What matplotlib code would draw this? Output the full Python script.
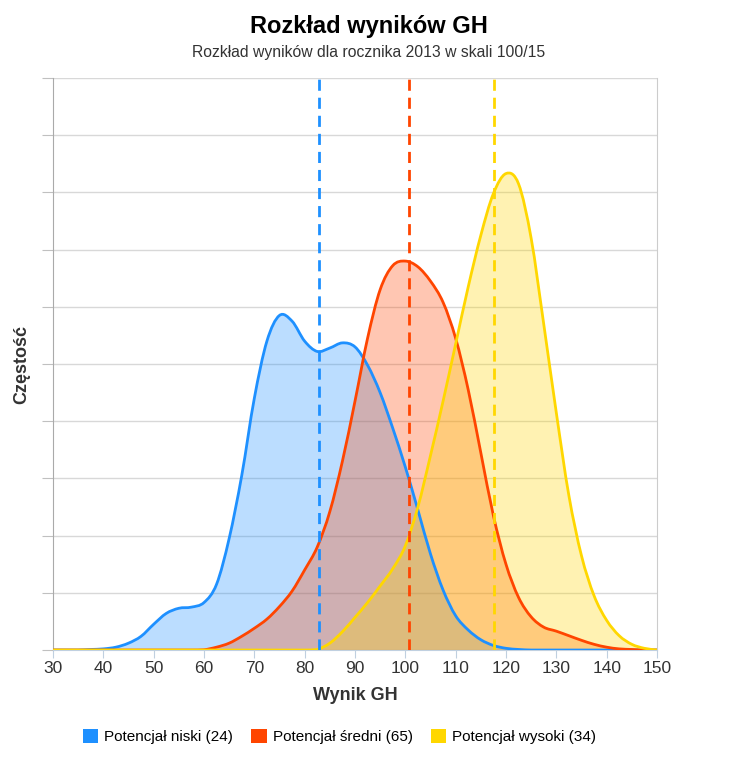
import numpy as np
import matplotlib
matplotlib.use("Agg")
import matplotlib.pyplot as plt
from matplotlib.path import Path
from matplotlib.patches import PathPatch, Patch

# Wyniki GH (oś X) i gęstości
wynik = [30, 32.5, 35, 37.5, 40, 42.5, 45, 47.5, 50, 52.5, 55, 57.5, 60, 62.5, 65,
         67.5, 70, 72.5, 75, 77.5, 80, 82.5, 85, 87.5, 90, 92.5, 95, 97.5, 100,
         102.5, 105, 107.5, 110, 112.5, 115, 117.5, 120, 122.5, 125, 127.5, 130,
         132.5, 135, 137.5, 140, 142.5, 145, 147.5, 150]

niski = [0, 0, 0, 0.01, 0.02, 0.05, 0.12, 0.24, 0.45, 0.64, 0.73, 0.75, 0.83, 1.15, 1.95,
         3.05, 4.4, 5.4, 5.85, 5.75, 5.4, 5.22, 5.28, 5.37, 5.3, 4.98, 4.5, 3.88, 3.2,
         2.45, 1.68, 1.05, 0.6, 0.35, 0.18, 0.08, 0.03, 0.01, 0, 0, 0,
         0, 0, 0, 0, 0, 0, 0, 0]

sredni = [0, 0, 0, 0, 0, 0, 0, 0, 0, 0, 0, 0, 0.005, 0.05, 0.12,
          0.24, 0.38, 0.54, 0.76, 1.03, 1.4, 1.8, 2.42, 3.3, 4.35, 5.45, 6.3, 6.72, 6.8,
          6.7, 6.45, 6.08, 5.45, 4.55, 3.45, 2.35, 1.5, 0.92, 0.58, 0.4, 0.33,
          0.25, 0.17, 0.1, 0.05, 0.02, 0.01, 0, 0]

wysoki = [0, 0, 0, 0, 0, 0, 0, 0, 0, 0, 0, 0, 0, 0, 0,
          0, 0, 0, 0, 0, 0, 0.01, 0.12, 0.32, 0.57, 0.83, 1.12, 1.42, 1.82,
          2.5, 3.4, 4.35, 5.35, 6.35, 7.25, 7.98, 8.33, 8.15, 7.2, 5.7, 4.15,
          2.7, 1.65, 0.95, 0.52, 0.25, 0.1, 0.03, 0]

srednie = [82.9, 100.7, 117.6]
etykiety = ["Potencjał niski (24)", "Potencjał średni (65)", "Potencjał wysoki (34)"]
kolory = ["#1E90FF", "#FF4500", "#FFD700"]


def spline_path(x, y, closed=False):
    # krzywa Beziera przez punkty (jak "spline" w Highcharts)
    x = np.asarray(x, float)
    y = np.asarray(y, float)
    n = len(x)
    verts = [(x[0], y[0])]
    codes = [Path.MOVETO]
    for i in range(n - 1):
        x0, y0 = (x[i - 1], y[i - 1]) if i > 0 else (x[i], y[i])
        x3, y3 = (x[i + 2], y[i + 2]) if i + 2 < n else (x[i + 1], y[i + 1])
        c1 = (x[i] + (x[i + 1] - x0) / 6, max(0, y[i] + (y[i + 1] - y0) / 6))
        c2 = (x[i + 1] - (x3 - x[i]) / 6, max(0, y[i + 1] - (y3 - y[i]) / 6))
        verts += [c1, c2, (x[i + 1], y[i + 1])]
        codes += [Path.CURVE4] * 3
    if closed:
        verts += [(x[-1], 0), (x[0], 0), (x[0], 0)]
        codes += [Path.LINETO, Path.LINETO, Path.CLOSEPOLY]
    return Path(verts, codes)


fig = plt.figure(figsize=(7.38, 7.66), dpi=100)
ax = fig.add_axes([0.0718, 0.1514, 0.8184, 0.7467])

for seria, kolor in zip([niski, sredni, wysoki], kolory):
    ax.add_patch(PathPatch(spline_path(wynik, seria, closed=True),
                           facecolor=kolor, alpha=0.3, edgecolor="none", zorder=2))
for seria, kolor in zip([niski, sredni, wysoki], kolory):
    ax.add_patch(PathPatch(spline_path(wynik, seria), facecolor="none",
                           edgecolor=kolor, lw=2, zorder=3))

for m, kolor in zip(srednie, kolory):
    ax.axvline(m, color=kolor, lw=2, ls=(0, (4, 2.5)), zorder=4)

ax.set_xlim(30, 150)
ax.set_ylim(0, 10)
ax.set_xticks(np.arange(30, 151, 10))
ax.set_yticks(np.arange(0, 11, 1))
ax.set_yticklabels([])
ax.grid(axis="y", color="#d8d8d8", lw=1)
ax.set_axisbelow(True)
ax.tick_params(axis="x", length=6, color="#c0d0e0", labelsize=12.5,
               labelcolor="#333333", pad=2)
ax.tick_params(axis="y", length=8, color="#c0c0c0")
ax.spines["top"].set_visible(False)
ax.spines["left"].set_color("#aaaaaa")
ax.spines["right"].set_color("#cccccc")
ax.spines["bottom"].set_color("#c0d0e0")
for lab in ax.get_xticklabels():
    lab.set_fontfamily("Liberation Sans")

ax.set_xlabel("Wynik GH", fontsize=13, fontweight="bold", color="#333333",
              family="Liberation Sans", labelpad=8)
ax.set_ylabel("Częstość", fontsize=13, fontweight="bold", color="#333333",
              family="Liberation Sans", labelpad=5)

fig.text(0.5, 0.966, "Rozkład wyników GH", ha="center", va="center",
         fontsize=17, fontweight="bold", family="Liberation Sans")
fig.text(0.5, 0.931, "Rozkład wyników dla rocznika 2013 w skali 100/15", ha="center",
         va="center", fontsize=11.3, color="#333333", family="Liberation Sans")

uchwyty = [Patch(facecolor=k, edgecolor="none") for k in kolory]
fig.legend(uchwyty, etykiety, loc="center", bbox_to_anchor=(0.46, 0.038), ncol=3,
           frameon=False, handlelength=1.0, handleheight=1.0, handletextpad=0.4,
           columnspacing=1.2, prop={"family": "Liberation Sans", "size": 11})

fig.savefig("out.png", dpi=100)
